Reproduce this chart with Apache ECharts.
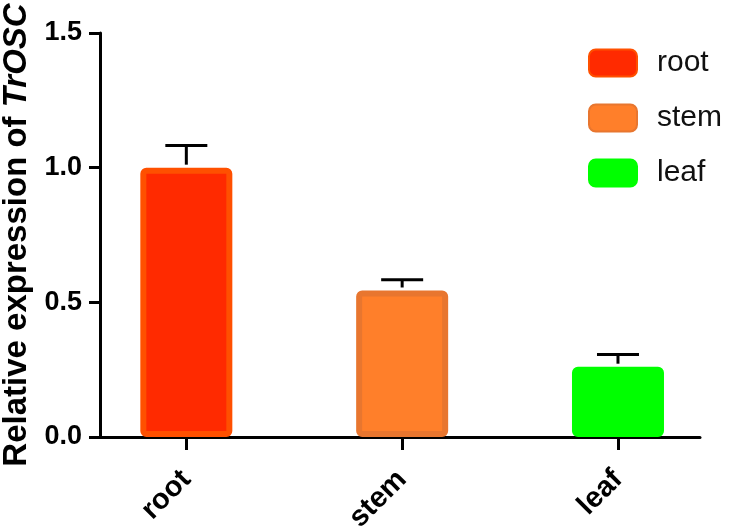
<!DOCTYPE html>
<html>
<head>
<meta charset="utf-8">
<script src="https://cdn.jsdelivr.net/npm/echarts@6/dist/echarts.min.js"></script>
<style>
  html, body { margin: 0; padding: 0; background: #fff; }
  #main { width: 729px; height: 527px; }
</style>
</head>
<body>
<div id="main"></div>
<script>
const tissues = ['root', 'stem', 'leaf']
const means = [1.0, 0.544, 0.261]
const errors = [0.082, 0.04, 0.045]
const fills = ['#FF2A00', '#FF7F2A', '#00FF00']
const borders = ['#FF5000', '#E8762F', '#00FF00']

const font = 'Liberation Sans, Arial, sans-serif'
const positions = tissues.map((t, i) => i)

const chartDom = document.getElementById('main')
const myChart = echarts.init(chartDom)

const barSeries = tissues.map((t, i) => ({
  name: t,
  type: 'bar',
  stack: 'one',
  barWidth: 92,
  data: [[i, means[i]]],
  itemStyle: {
    color: fills[i],
    borderColor: borders[i],
    borderWidth: 6,
    borderRadius: 3
  }
}))

myChart.setOption({
  animation: false,
  grid: { left: 100, right: 29, top: 33, bottom: 90, outerBoundsMode: 'none' },
  legend: {
    data: tissues,
    orient: 'vertical',
    left: 583,
    top: 43,
    itemWidth: 48,
    itemHeight: 27,
    itemGap: 25,
    textStyle: {
      fontFamily: font,
      fontSize: 30,
      lineHeight: 27,
      color: '#111',
      padding: [0, 0, 0, 15]
    }
  },
  xAxis: {
    type: 'value',
    min: -0.4,
    max: 2.38,
    splitLine: { show: false },
    axisLine: { show: true, onZero: false, lineStyle: { color: '#000', width: 3 } },
    axisTick: { show: true, length: 13, customValues: positions, lineStyle: { color: '#000', width: 3 } },
    axisLabel: {
      customValues: positions,
      rotate: 45,
      margin: 38,
      fontFamily: font,
      fontWeight: 'bold',
      fontSize: 29,
      color: '#000',
      formatter: v => tissues[Math.round(v)]
    }
  },
  yAxis: {
    type: 'value',
    min: 0,
    max: 1.5,
    interval: 0.5,
    name: '{a|Relative expression of }{b|TrOSC}',
    nameLocation: 'middle',
    nameGap: 65,
    nameRotate: 90,
    nameTextStyle: {
      rich: {
        a: { fontFamily: font, fontWeight: 'bold', fontSize: 33, color: '#000' },
        b: { fontFamily: font, fontWeight: 'bold', fontStyle: 'italic', fontSize: 33, color: '#000' }
      }
    },
    splitLine: { show: false },
    axisLine: { show: true, onZero: false, lineStyle: { color: '#000', width: 3 } },
    axisTick: { show: true, length: 11, lineStyle: { color: '#000', width: 3 } },
    axisLabel: {
      margin: 18,
      fontFamily: font,
      fontWeight: 'bold',
      fontSize: 27,
      color: '#000',
      formatter: v => v.toFixed(1)
    }
  },
  series: [
    ...barSeries,
    {
      type: 'custom',
      z: 5,
      data: tissues.map((t, i) => [i, means[i], means[i] + errors[i]]),
      renderItem: (params, api) => {
        const base = api.coord([api.value(0), api.value(1)])
        const top = api.coord([api.value(0), api.value(2)])
        const half = 21
        const style = { stroke: '#000', lineWidth: 3 }
        return {
          type: 'group',
          children: [
            { type: 'line', shape: { x1: base[0], y1: base[1] - 3, x2: top[0], y2: top[1] }, style },
            { type: 'line', shape: { x1: top[0] - half, y1: top[1], x2: top[0] + half, y2: top[1] }, style }
          ]
        }
      }
    }
  ]
})
</script>
</body>
</html>
